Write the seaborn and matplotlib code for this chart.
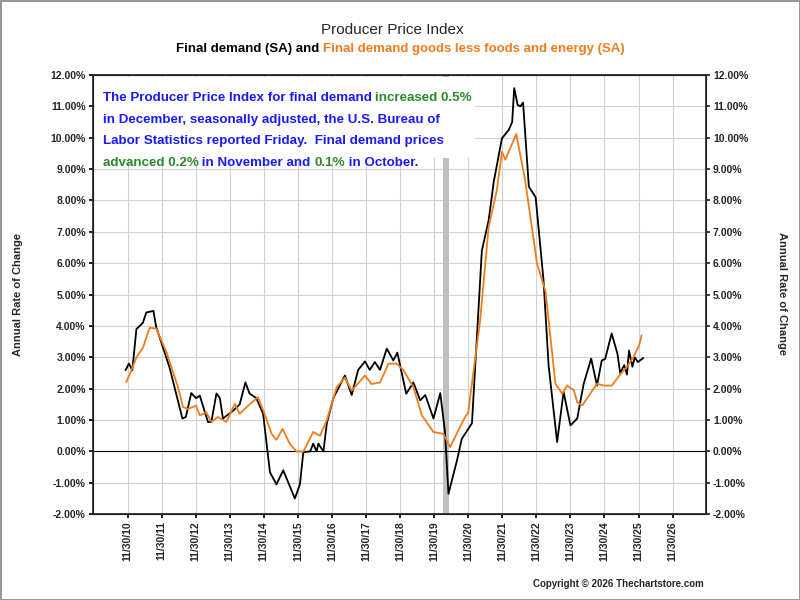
import matplotlib
matplotlib.use("Agg")
import matplotlib.pyplot as plt
import seaborn as sns
import pandas as pd
import numpy as np

sns.set_theme(style="white")
plt.rcParams['font.family'] = ['Liberation Sans', 'DejaVu Sans']

fd_x = [2010.86,2010.96,2011.06,2011.18,2011.37,2011.47,2011.68,2011.76,2012.15,2012.53,2012.63,2012.79,2012.93,2013.04,2013.28,2013.38,2013.53,2013.63,2013.72,2014.02,2014.21,2014.38,2014.5,2014.7,2014.9,2015.1,2015.29,2015.49,2015.68,2015.83,2015.98,2016.08,2016.28,2016.37,2016.47,2016.52,2016.67,2016.77,2016.96,2017.3,2017.5,2017.69,2017.89,2018.03,2018.18,2018.33,2018.53,2018.72,2018.84,2019.1,2019.31,2019.51,2019.66,2019.9,2020.1,2020.24,2020.34,2020.59,2020.73,2021.03,2021.32,2021.52,2021.67,2021.91,2022.11,2022.21,2022.27,2022.37,2022.45,2022.53,2022.7,2022.9,2023.13,2023.28,2023.53,2023.72,2023.92,2024.12,2024.31,2024.53,2024.7,2024.84,2024.94,2025.13,2025.3,2025.38,2025.5,2025.58,2025.64,2025.74,2025.81,2025.9,2026.06]
fd_y = [2.59,2.8,2.59,3.9,4.1,4.43,4.48,3.97,2.69,1.05,1.1,1.86,1.7,1.78,0.94,0.94,1.85,1.7,1.05,1.3,1.5,2.2,1.85,1.7,1.2,-0.66,-1.05,-0.6,-1.1,-1.5,-1.05,-0.02,0.0,0.25,0.0,0.25,0.0,0.9,1.7,2.42,1.8,2.6,2.87,2.6,2.85,2.6,3.28,2.9,3.15,1.84,2.2,1.63,1.8,1.05,1.86,0.6,-1.35,-0.29,0.4,0.9,6.4,7.37,8.6,9.98,10.25,10.5,11.58,11.05,11.0,11.12,8.44,8.1,5.46,2.74,0.3,1.9,0.83,1.05,2.16,2.96,2.1,2.9,2.95,3.76,3.12,2.5,2.75,2.45,3.22,2.7,3.0,2.85,2.98]

core_x = [2010.88,2011.03,2011.18,2011.37,2011.57,2011.76,2012.06,2012.4,2012.55,2012.7,2012.93,2013.04,2013.23,2013.38,2013.57,2013.82,2014.07,2014.21,2014.46,2014.75,2014.94,2015.15,2015.29,2015.47,2015.68,2015.88,2016.08,2016.37,2016.57,2016.77,2017.06,2017.3,2017.5,2017.89,2018.08,2018.33,2018.58,2018.82,2019.02,2019.31,2019.56,2019.9,2020.19,2020.39,2020.78,2020.92,2021.27,2021.52,2021.76,2021.91,2022.01,2022.33,2022.59,2022.94,2023.19,2023.48,2023.68,2023.82,2024.02,2024.12,2024.27,2024.7,2024.9,2025.14,2025.34,2025.58,2025.79,2025.94,2026.01]
core_y = [2.21,2.58,3.0,3.3,3.94,3.92,3.17,2.05,1.41,1.36,1.46,1.15,1.25,0.94,1.1,0.94,1.52,1.2,1.46,1.73,1.2,0.56,0.37,0.72,0.25,0.0,0.0,0.62,0.5,1.0,2.05,2.35,1.94,2.42,2.15,2.2,2.8,2.8,2.59,2.05,1.15,0.62,0.56,0.14,1.0,1.25,4.18,7.16,8.33,9.55,9.3,10.12,8.65,5.99,5.1,2.16,1.84,2.1,1.95,1.57,1.47,2.16,2.1,2.1,2.4,2.7,3.04,3.4,3.7]

tick_labels = ["11/30/%02d" % y for y in range(10, 27)]
tick_pos = [2010.92 + i for i in range(17)]
y_ticks = list(range(-2, 13))

fig = plt.figure(figsize=(8, 6), dpi=100)
fig.patch.set_edgecolor('#999999'); fig.patch.set_linewidth(1)
ax = fig.add_axes([0.116, 0.143, 0.7665, 0.732])
ax.axvspan(2020.19, 2020.36, color='#c0c0c0', lw=0, zorder=1)
sns.lineplot(x=fd_x, y=fd_y, ax=ax, color='black', lw=1.3, zorder=4)
sns.lineplot(x=core_x, y=core_y, ax=ax, color='#f07c1e', lw=1.3, zorder=5)
ax.axhline(0, color='black', lw=0.8, zorder=3)
ax.set_xlim(2009.9, 2027.9)
ax.set_ylim(-2, 12)
ax.set_xticks(tick_pos)
ax.set_xticklabels(tick_labels, rotation=90, fontsize=7.5, fontweight='bold')
ax.set_yticks(y_ticks)
ax.set_yticklabels(["%.2f%%" % v for v in y_ticks], fontsize=7.5, fontweight='bold')
ax.grid(True, color='#d0d0d0', lw=0.8, zorder=0)
ax.tick_params(axis='both', length=3, direction='out', color='black', left=True, bottom=True, pad=2)
for s in ax.spines.values():
    s.set_color('black'); s.set_linewidth(0.8)
ax2 = ax.twinx()
ax2.set_ylim(-2, 12)
ax2.set_yticks(y_ticks)
ax2.set_yticklabels(["%.2f%%" % v for v in y_ticks], fontsize=7.5, fontweight='bold')
ax2.tick_params(axis='y', length=3, right=True, pad=2)
ax2.grid(False)
fig.text(0.022, 0.51, "Annual Rate of Change", rotation=90, fontsize=8, fontweight='bold', va='center', ha='center')
fig.text(0.978, 0.51, "Annual Rate of Change", rotation=270, fontsize=8, fontweight='bold', va='center', ha='center')

# annotation box
ax.add_patch(plt.Rectangle((0.003, 0.81), 0.62, 0.185, transform=ax.transAxes,
                           facecolor='white', edgecolor='none', zorder=6))
blue, green = '#1a1aff', '#2a8a2a'
lines = [[("The Producer Price Index for final demand ", blue), ("increased 0.5%", green)],
         [("in December, seasonally adjusted, the U.S. Bureau of", blue)],
         [("Labor Statistics reported Friday.  Final demand prices", blue)],
         [("advanced 0.2%", green), (" in November and ", blue), ("0.1%", green), (" in October.", blue)]]
y0 = 0.935
for i, line in enumerate(lines):
    prev = None
    for txt, col in line:
        kw = dict(fontsize=9.6, fontweight='bold', color=col, zorder=7, va='bottom', ha='left')
        if prev is None:
            prev = ax.text(0.016, y0 - i * 0.05, txt, transform=ax.transAxes, **kw)
        else:
            prev = ax.annotate(txt, xy=(1, 0), xycoords=prev, **kw)

fig.text(0.49, 0.943, "Producer Price Index", ha='center', fontsize=11)
t1 = fig.text(0.22, 0.913, "Final demand (SA) and ", ha='left', fontsize=9.5, fontweight='bold', color='black')
plt.annotate("Final demand goods less foods and energy (SA)", xy=(1, 0), xycoords=t1,
             fontsize=9.5, fontweight='bold', color='#f07c1e', va='bottom', ha='left')
fig.text(0.88, 0.022, "Copyright © 2026 Thechartstore.com", ha='right', fontsize=7, fontweight='bold')
fig.savefig("out.png", dpi=100, edgecolor=fig.get_edgecolor())
